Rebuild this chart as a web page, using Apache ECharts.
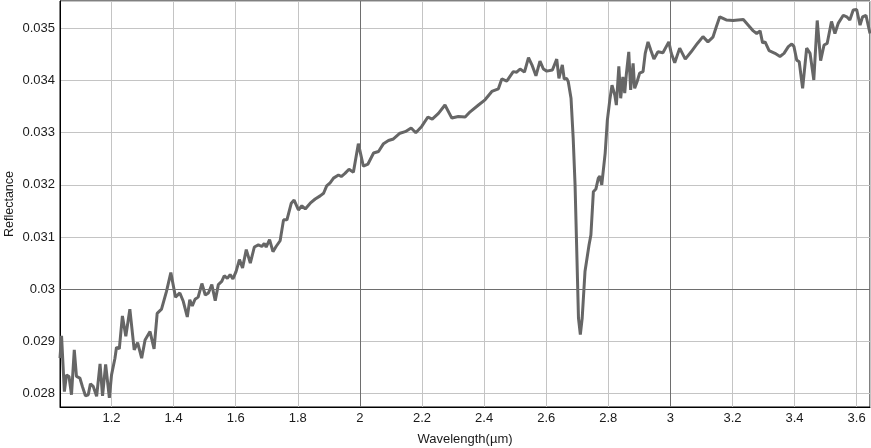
<!DOCTYPE html>
<html>
<head>
<meta charset="utf-8">
<script src="https://cdn.jsdelivr.net/npm/echarts@6/dist/echarts.min.js"></script>
<style>html,body{margin:0;padding:0;background:#fff;}#c{width:871px;height:448px;}</style>
</head>
<body>
<div id="c"></div>
<script>
const wavelength = [
1.034,1.039,1.048,1.055,1.063,1.071,1.080,1.087,1.098,1.106,1.116,1.125,1.132,1.141,1.152,1.163,1.171,1.181,1.193,1.200,
1.211,1.216,1.225,1.235,1.246,1.259,1.273,1.284,1.297,1.308,1.324,1.337,1.347,1.361,1.377,1.391,1.406,1.420,1.431,1.444,
1.452,1.460,1.469,1.479,1.491,1.502,1.512,1.523,1.534,1.544,1.555,1.563,1.573,1.582,1.591,1.601,1.612,1.622,1.634,1.647,
1.660,1.673,1.684,1.692,1.698,1.709,1.720,1.730,1.743,1.754,1.765,1.779,1.788,1.802,1.813,1.824,1.840,1.856,1.872,1.883,
1.893,1.904,1.915,1.931,1.940,1.952,1.965,1.979,1.995,2.011,2.026,2.044,2.060,2.076,2.092,2.108,2.129,2.146,2.165,2.180,
2.199,2.219,2.233,2.253,2.274,2.296,2.317,2.339,2.355,2.382,2.403,2.425,2.446,2.457,2.473,2.494,2.505,2.516,2.530,2.543,
2.554,2.567,2.580,2.591,2.602,2.620,2.634,2.641,2.652,2.658,2.666,2.671,2.680,2.687,2.693,2.698,2.704,2.710,2.716,2.725,
2.738,2.744,2.752,2.760,2.768,2.773,2.779,2.790,2.797,2.805,2.812,2.821,2.826,2.834,2.840,2.847,2.853,2.858,2.866,2.872,
2.880,2.885,2.893,2.901,2.912,2.919,2.928,2.937,2.947,2.960,2.976,2.995,3.003,3.014,3.030,3.048,3.067,3.087,3.105,3.121,
3.137,3.148,3.159,3.180,3.202,3.235,3.251,3.267,3.278,3.289,3.297,3.305,3.318,3.337,3.353,3.366,3.380,3.391,3.398,3.407,
3.415,3.426,3.439,3.450,3.462,3.473,3.484,3.495,3.505,3.519,3.530,3.541,3.557,3.568,3.578,3.589,3.600,3.611,3.619,3.630,
3.643
];
const reflectance = [
0.02868,0.02911,0.02804,0.02836,0.02833,0.02798,0.02884,0.02833,0.02830,0.02814,0.02796,0.02798,0.02819,0.02814,0.02795,0.02857,0.02796,0.02856,0.02792,0.02836,
0.02868,0.02889,0.02886,0.02949,0.02910,0.02962,0.02884,0.02898,0.02868,0.02903,0.02919,0.02886,0.02954,0.02962,0.02996,0.03032,0.02985,0.02993,0.02977,0.02947,
0.02980,0.02968,0.02981,0.02985,0.03011,0.02989,0.02993,0.03009,0.02978,0.03009,0.03015,0.03026,0.03021,0.03028,0.03020,0.03034,0.03057,0.03041,0.03076,0.03050,
0.03081,0.03085,0.03082,0.03088,0.03081,0.03095,0.03072,0.03082,0.03093,0.03133,0.03133,0.03165,0.03171,0.03152,0.03160,0.03154,0.03165,0.03173,0.03179,0.03184,
0.03198,0.03204,0.03213,0.03219,0.03216,0.03222,0.03230,0.03224,0.03279,0.03236,0.03240,0.03261,0.03264,0.03279,0.03285,0.03288,0.03299,0.03302,0.03309,0.03300,
0.03312,0.03330,0.03326,0.03337,0.03353,0.03328,0.03331,0.03330,0.03340,0.03353,0.03363,0.03379,0.03384,0.03403,0.03399,0.03417,0.03416,0.03422,0.03416,0.03444,
0.03430,0.03409,0.03437,0.03422,0.03418,0.03420,0.03441,0.03404,0.03430,0.03403,0.03404,0.03398,0.03366,0.03289,0.03200,0.03085,0.02945,0.02913,0.02945,0.03034,
0.03085,0.03104,0.03187,0.03192,0.03213,0.03217,0.03200,0.03261,0.03324,0.03363,0.03391,0.03372,0.03353,0.03427,0.03366,0.03407,0.03376,0.03411,0.03455,0.03382,
0.03433,0.03385,0.03398,0.03414,0.03417,0.03452,0.03474,0.03458,0.03441,0.03455,0.03453,0.03474,0.03452,0.03434,0.03462,0.03441,0.03455,0.03471,0.03484,0.03474,
0.03483,0.03503,0.03522,0.03516,0.03515,0.03517,0.03506,0.03495,0.03490,0.03495,0.03472,0.03474,0.03457,0.03452,0.03446,0.03452,0.03465,0.03470,0.03465,0.03439,
0.03436,0.03385,0.03462,0.03452,0.03401,0.03515,0.03438,0.03468,0.03471,0.03513,0.03490,0.03510,0.03525,0.03522,0.03516,0.03535,0.03536,0.03506,0.03522,0.03525,
0.03490
];
const xRange = [1.034, 3.643];
const yRange = [0.027745, 0.035523];
const xStep = 0.2;
const yStep = 0.001;
const darkGridX = [2, 3];
const darkGridY = [0.03];

const pts = wavelength.map((w, i) => [w, reflectance[i]]);
const font = '"Liberation Sans", Arial, Helvetica, sans-serif';

const chart = echarts.init(document.getElementById('c'), null, {renderer: 'canvas'});
chart.setOption({
  animation: false,
  backgroundColor: '#fff',
  grid: {left: 60, right: 1, top: 1, bottom: 41, show: true, borderColor: '#000', borderWidth: 1, containLabel: false, outerBoundsMode: 'none'},
  xAxis: {
    type: 'value', min: xRange[0], max: xRange[1], minInterval: xStep, maxInterval: xStep,
    name: 'Wavelength(µm)', nameLocation: 'middle', nameGap: 26,
    nameTextStyle: {fontFamily: font, fontSize: 13, color: '#1a1a1a'},
    axisLine: {show: true, lineStyle: {color: '#000', width: 1}},
    axisTick: {show: false},
    axisLabel: {fontFamily: font, fontSize: 13, color: '#1a1a1a', margin: 5, showMinLabel: false, showMaxLabel: false},
    splitLine: {show: true, lineStyle: {color: '#c4c4c4', width: 1}}
  },
  yAxis: {
    type: 'value', min: yRange[0], max: yRange[1], minInterval: yStep, maxInterval: yStep,
    name: 'Reflectance', nameLocation: 'middle', nameGap: 44, nameRotate: 90, nameMoveOverlap: false,
    nameTextStyle: {fontFamily: font, fontSize: 12.5, color: '#1a1a1a'},
    axisLine: {show: true, lineStyle: {color: '#000', width: 1}},
    axisTick: {show: false},
    axisLabel: {fontFamily: font, fontSize: 13, color: '#1a1a1a', margin: 5, showMinLabel: false, showMaxLabel: false},
    splitLine: {show: true, lineStyle: {color: '#c4c4c4', width: 1}}
  },
  series: [
    {
      type: 'line', data: [], z: 1, silent: true,
      markLine: {
        silent: true, symbol: ['none', 'none'], label: {show: false},
        lineStyle: {color: '#6e6e6e', width: 1, type: 'solid'},
        data: darkGridX.map(v => ({xAxis: v})).concat(darkGridY.map(v => ({yAxis: v})))
      }
    },
    {
      type: 'line', data: pts, z: 3, showSymbol: false, symbol: 'none',
      lineStyle: {color: '#666666', width: 3}, itemStyle: {color: '#666666'}
    }
  ]
});
</script>
</body>
</html>
